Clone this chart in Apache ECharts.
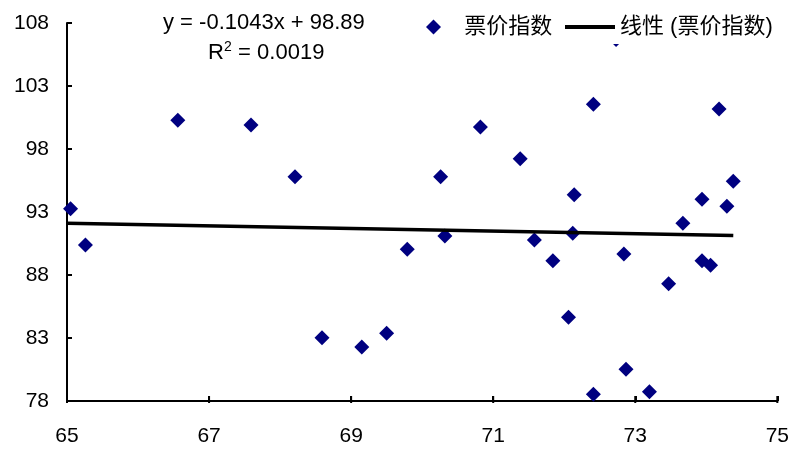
<!DOCTYPE html>
<html>
<head>
<meta charset="utf-8">
<script src="https://cdn.jsdelivr.net/npm/echarts@6/dist/echarts.min.js"></script>
</head>
<body style="margin:0;background:#fff">
<div id="main" style="width:792px;height:449px"></div>
<script>
// 数据
const seriesName = '票价指数';
const trendName = '线性 (票价指数)';
const xValues = [65.05, 65.26, 66.56, 67.59, 68.21, 68.59, 69.15, 69.50, 69.79, 70.26,
  70.32, 70.82, 71.38, 71.58, 71.84, 72.06, 72.14, 72.12, 72.41, 72.41,
  72.73, 72.84, 72.87, 73.20, 73.47, 73.67, 73.94, 73.94, 74.06, 74.18,
  74.29, 74.38];
const yValues = [93.26, 90.38, 100.28, 99.90, 95.80, 83.02, 82.29, 83.37, 90.04, 95.80,
  91.10, 99.75, 97.23, 90.78, 89.13, 84.64, 94.37, 91.31, 101.55, 78.53,
  106.7, 89.67, 80.52, 78.74, 87.31, 92.10, 94.01, 89.13, 88.77, 101.17,
  93.45, 95.44];
const trendX = [65, 74.38];
const trendY = [92.11, 91.13];
const xTicks = [65, 67, 69, 71, 73, 75];
const yTicks = [78, 83, 88, 93, 98, 103, 108];
const eqText = 'y = -0.1043x + 98.89';

const font = '"Liberation Sans", Arial, "Noto Sans CJK SC", sans-serif';
const myChart = echarts.init(document.getElementById('main'));

const texts = [
  { type: 'text', left: 163, top: 12, style: { text: eqText, font: '22px ' + font, fill: '#000' } },
  { type: 'text', left: 208, top: 42, style: { text: 'R', font: '22px ' + font, fill: '#000' } },
  { type: 'text', left: 224, top: 40, style: { text: '2', font: '14px ' + font, fill: '#000' } },
  { type: 'text', left: 232, top: 42, style: { text: ' = 0.0019', font: '22px ' + font, fill: '#000' } }
];

const option = {
  animation: false,
  grid: { left: 67, right: 11, top: 23, bottom: 48 },
  xAxis: {
    type: 'value',
    min: 65,
    max: 75,
    interval: 2,
    axisLine: { show: true, lineStyle: { color: '#000', width: 2 } },
    axisTick: { show: true, inside: true, length: 5, lineStyle: { color: '#000', width: 2 } },
    axisLabel: { color: '#000', fontSize: 21, margin: 25, fontFamily: font },
    splitLine: { show: false }
  },
  yAxis: {
    type: 'value',
    min: 78,
    max: 108,
    interval: 5,
    axisLine: { show: true, lineStyle: { color: '#000', width: 2 } },
    axisTick: { show: true, inside: true, length: 5, lineStyle: { color: '#000', width: 2 } },
    axisLabel: { color: '#000', fontSize: 21, margin: 18, fontFamily: font },
    splitLine: { show: false }
  },
  legend: [
    {
      data: [{ name: seriesName, icon: 'diamond' }],
      left: 421,
      top: 11,
      itemWidth: 15,
      itemHeight: 15,
      formatter: '   {name}',
      textStyle: { fontSize: 22, color: '#000', fontFamily: font }
    },
    {
      data: [{ name: trendName, icon: 'path://M0,0H50V4H0Z' }],
      left: 563,
      top: 13,
      padding: [3, 4, 6, 2],
      backgroundColor: '#fff',
      itemWidth: 50,
      itemHeight: 4,
      textStyle: { fontSize: 22, color: '#000', fontFamily: font }
    }
  ],
  graphic: { elements: texts },
  series: [
    {
      name: seriesName,
      type: 'scatter',
      symbol: 'diamond',
      symbolSize: 15,
      itemStyle: { color: '#000080', opacity: 1 },
      data: xValues.map((x, i) => [x, yValues[i]]),
      z: 2
    },
    {
      name: trendName,
      type: 'line',
      symbol: 'none',
      lineStyle: { color: '#000', width: 3.5 },
      itemStyle: { color: '#000' },
      data: trendX.map((x, i) => [x, trendY[i]]),
      z: 3
    }
  ]
};
myChart.setOption(option);

// 坐标轴线（用刻度值换算像素，保证轴线一定画出来）
const p0 = myChart.convertToPixel({ gridIndex: 0 }, [xTicks[0], yTicks[0]]);
const p1 = myChart.convertToPixel({ gridIndex: 0 }, [xTicks[xTicks.length - 1], yTicks[yTicks.length - 1]]);
const axisStyle = { stroke: '#000', lineWidth: 2 };
const axisLines = [
  { type: 'line', shape: { x1: p0[0], y1: p0[1], x2: p1[0], y2: p0[1] }, style: axisStyle, z: 1 },
  { type: 'line', shape: { x1: p0[0], y1: p0[1], x2: p0[0], y2: p1[1] }, style: axisStyle, z: 1 }
];
xTicks.forEach(v => {
  const x = myChart.convertToPixel({ xAxisIndex: 0 }, v);
  axisLines.push({ type: 'line', shape: { x1: x, y1: p0[1] - 5, x2: x, y2: p0[1] + 2 }, style: axisStyle, z: 1 });
});
yTicks.forEach(v => {
  const y = myChart.convertToPixel({ yAxisIndex: 0 }, v);
  axisLines.push({ type: 'line', shape: { x1: p0[0], y1: y, x2: p0[0] + 5, y2: y }, style: axisStyle, z: 1 });
});
myChart.setOption({ graphic: { elements: texts.concat(axisLines) } });
</script>
</body>
</html>
